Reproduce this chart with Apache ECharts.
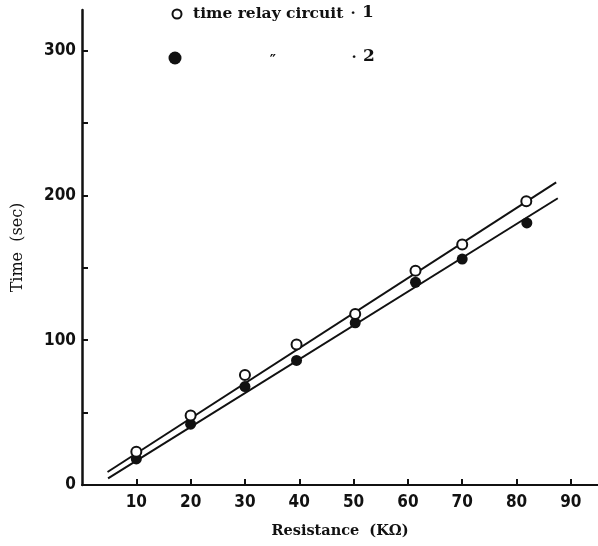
<!DOCTYPE html>
<html>
<head>
<meta charset="utf-8">
<script src="https://cdn.jsdelivr.net/npm/echarts@6/dist/echarts.min.js"></script>
<style>
html,body{margin:0;padding:0;background:#fff;}
#c{width:598px;height:546px;}
</style>
</head>
<body>
<div id="c"></div>
<script>
// Series 1: time relay circuit 1 (open circles)
const resistance1 = [10, 20, 30, 39.5, 50.3, 61.4, 70, 81.8];
const time1 = [23, 48, 76, 97, 118, 148, 166, 196];
// Series 2: time relay circuit 2 (filled circles)
const resistance2 = [10, 20, 30, 39.5, 50.3, 61.4, 70, 81.9];
const time2 = [18, 42, 68, 86, 112, 140, 156, 181];
// Fitted straight lines (end points)
const fitX1 = [4.7, 87.3];
const fitY1 = [9, 209];
const fitX2 = [4.8, 87.6];
const fitY2 = [4.6, 198];
// Tick labels
const xTickLabels = [10, 20, 30, 40, 50, 60, 70, 80, 90];
const yTicks = [0, 50, 100, 150, 200, 250, 300];
const yTickLabels = [0, 100, 200, 300];

const zip = (a, b) => a.map((v, i) => [v, b[i]]);
const numFont = "'Liberation Sans Narrow', 'DejaVu Sans Condensed', 'Liberation Sans', sans-serif";
const serif = "'DejaVu Serif', 'Liberation Serif', serif";

const chart = echarts.init(document.getElementById('c'), null, {renderer: 'canvas'});
chart.setOption({
  animation: false,
  backgroundColor: '#fff',
  grid: {left: 82, right: 0, top: 10, bottom: 61},
  xAxis: {
    type: 'value', min: 0, max: 95,
    name: 'Resistance  (KΩ)', nameLocation: 'middle', nameGap: 39,
    nameTextStyle: {fontFamily: serif, fontWeight: 'bold', fontSize: 14.5, color: '#111'},
    axisLine: {show: true, lineStyle: {color: '#111', width: 2}},
    axisTick: {show: true, inside: true, length: 6, customValues: xTickLabels, lineStyle: {color: '#111', width: 2}},
    axisLabel: {customValues: xTickLabels, margin: 9, fontFamily: numFont, fontWeight: 'bold', fontSize: 17, color: '#111'},
    splitLine: {show: false}
  },
  yAxis: {
    type: 'value', min: 0, max: 328,
    name: 'Time  (sec)', nameLocation: 'middle', nameGap: 56, nameRotate: 90,
    nameTextStyle: {fontFamily: serif, fontWeight: 'normal', fontSize: 16, color: '#111'},
    axisLine: {show: true, lineStyle: {color: '#111', width: 2.5}},
    axisTick: {show: true, inside: true, length: 6, customValues: yTicks, lineStyle: {color: '#111', width: 2}},
    axisLabel: {customValues: yTickLabels, margin: 6, fontFamily: numFont, fontWeight: 'bold', fontSize: 17, color: '#111'},
    splitLine: {show: false}
  },
  graphic: [
    {type: 'circle', shape: {cx: 177, cy: 14, r: 4.5}, style: {fill: '#fff', stroke: '#111', lineWidth: 2}},
    {type: 'text', x: 193, y: 14, style: {text: 'time relay circuit', fontFamily: serif, fontWeight: 'bold', fontSize: 15.5, fill: '#111', verticalAlign: 'middle'}},
    {type: 'text', x: 353, y: 14, style: {text: '·', fontFamily: serif, fontWeight: 'bold', fontSize: 15, fill: '#111', align: 'center', verticalAlign: 'middle'}},
    {type: 'text', x: 368, y: 13, style: {text: '1', fontFamily: serif, fontWeight: 'bold', fontSize: 17, fill: '#111', align: 'center', verticalAlign: 'middle'}},
    {type: 'circle', shape: {cx: 175, cy: 58, r: 6.5}, style: {fill: '#111'}},
    {type: 'text', x: 273, y: 61, style: {text: '″', fontFamily: serif, fontWeight: 'bold', fontSize: 14, fill: '#111', align: 'center', verticalAlign: 'middle'}},
    {type: 'text', x: 354, y: 58, style: {text: '·', fontFamily: serif, fontWeight: 'bold', fontSize: 15, fill: '#111', align: 'center', verticalAlign: 'middle'}},
    {type: 'text', x: 369, y: 57, style: {text: '2', fontFamily: serif, fontWeight: 'bold', fontSize: 17, fill: '#111', align: 'center', verticalAlign: 'middle'}}
  ],
  series: [
    {type: 'line', data: zip(fitX1, fitY1), showSymbol: false, lineStyle: {color: '#111', width: 2}, z: 2},
    {type: 'line', data: zip(fitX2, fitY2), showSymbol: false, lineStyle: {color: '#111', width: 2}, z: 2},
    {type: 'scatter', data: zip(resistance2, time2), symbol: 'circle', symbolSize: 11,
     itemStyle: {color: '#111', opacity: 1}, z: 3},
    {type: 'scatter', data: zip(resistance1, time1), symbol: 'circle', symbolSize: 10,
     itemStyle: {color: '#fff', borderColor: '#111', borderWidth: 2, opacity: 1}, z: 4}
  ]
});
</script>
</body>
</html>
